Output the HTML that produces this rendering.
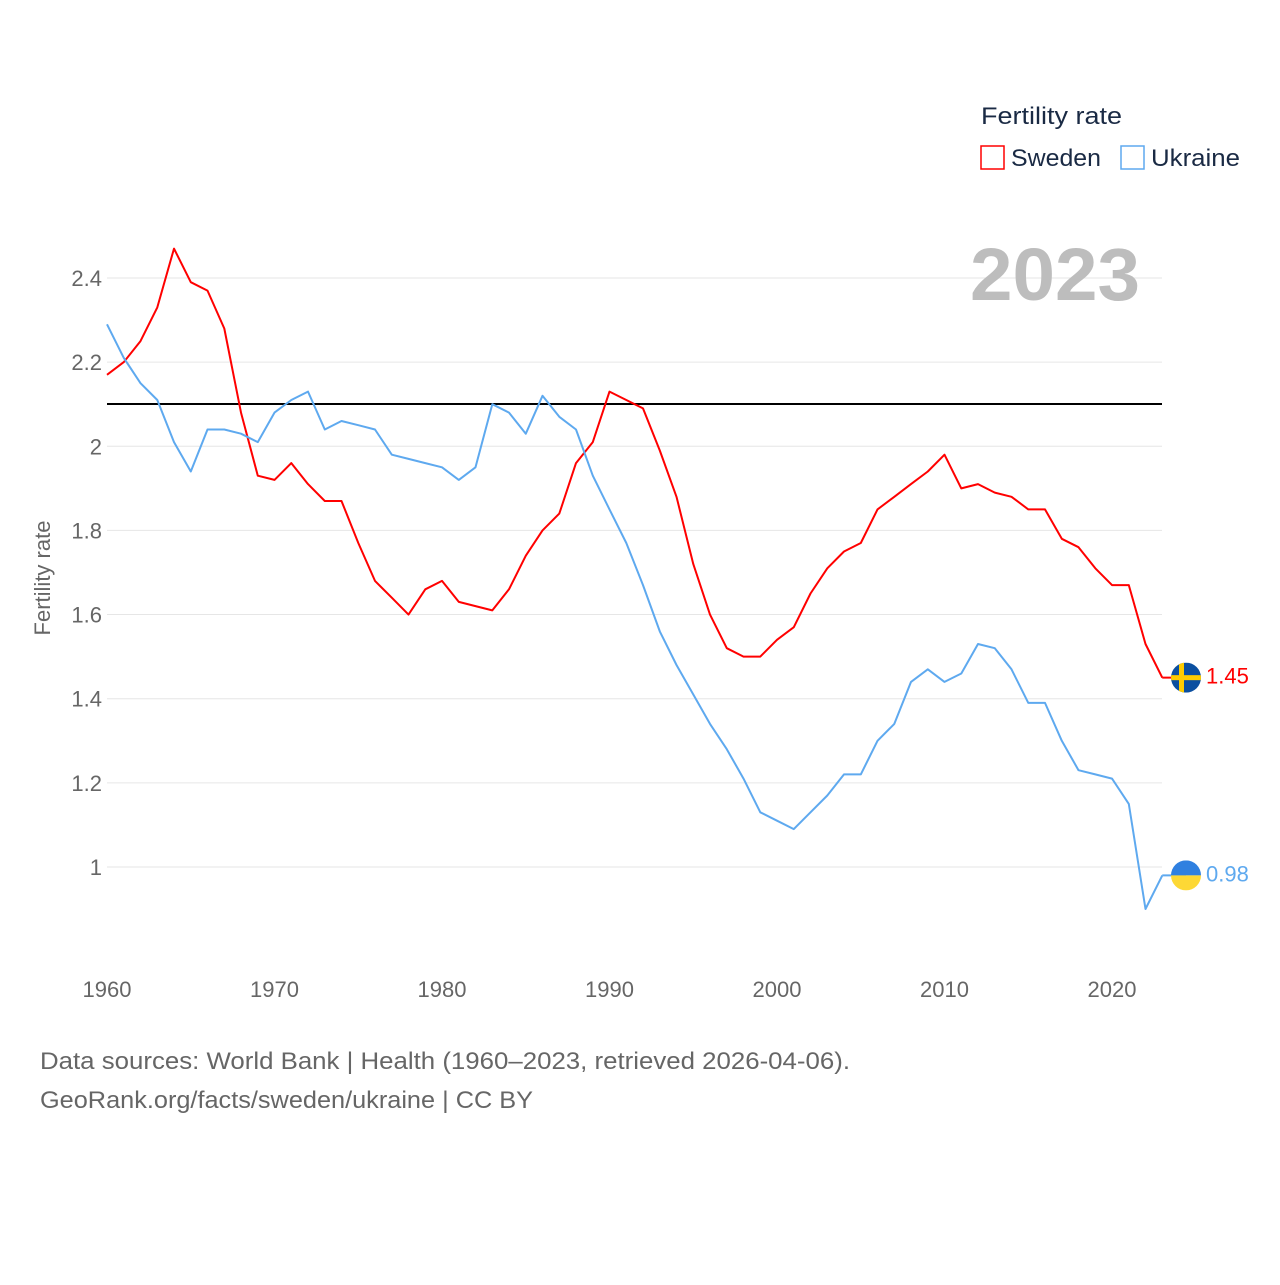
<!DOCTYPE html>
<html><head><meta charset="utf-8"><style>
body{margin:0;background:#fff;font-family:"Liberation Sans",sans-serif;}
svg text{font-family:"Liberation Sans",sans-serif;}
</style></head><body>
<svg id="chart" width="1280" height="1280" viewBox="0 0 1280 1280" xmlns="http://www.w3.org/2000/svg">
<g id="grid"></g>
<g id="yticks"></g>
<g id="xticks"></g>
<text x="970" y="300" textLength="170" lengthAdjust="spacingAndGlyphs" font-size="74" font-weight="bold" fill="#bdbdbd">2023</text>
<text transform="translate(50,578) rotate(-90)" text-anchor="middle" font-size="22" fill="#666">Fertility rate</text>
<line x1="107" x2="1162" y1="404" y2="404" stroke="#000" stroke-width="2"/>
<g id="series"></g>
<text x="981" y="124" font-size="24" textLength="141" lengthAdjust="spacingAndGlyphs" fill="#1a2a44">Fertility rate</text>
<g><rect x="981" y="146" width="23" height="23" fill="none" stroke="#f00" stroke-width="1.5"/><text x="1011" y="166" font-size="24" textLength="90" lengthAdjust="spacingAndGlyphs" fill="#1a2a44">Sweden</text></g>
<g><rect x="1121" y="146" width="23" height="23" fill="none" stroke="#5ea9ef" stroke-width="1.5"/><text x="1151" y="166" font-size="24" textLength="89" lengthAdjust="spacingAndGlyphs" fill="#1a2a44">Ukraine</text></g>
<text x="40" y="1069" font-size="24" textLength="810" lengthAdjust="spacingAndGlyphs" fill="#666">Data sources: World Bank | Health (1960–2023, retrieved 2026-04-06).</text>
<text x="40" y="1108" font-size="24" textLength="493" lengthAdjust="spacingAndGlyphs" fill="#666">GeoRank.org/facts/sweden/ukraine | CC BY</text>
</svg>
<script>
const years = Array.from({length:64},(_, i)=>1960+i);
const sweden = [2.17,2.20,2.25,2.33,2.47,2.39,2.37,2.28,2.08,1.93,1.92,1.96,1.91,1.87,1.87,1.77,1.68,1.64,1.60,1.66,1.68,1.63,1.62,1.61,1.66,1.74,1.80,1.84,1.96,2.01,2.13,2.11,2.09,1.99,1.88,1.72,1.60,1.52,1.50,1.50,1.54,1.57,1.65,1.71,1.75,1.77,1.85,1.88,1.91,1.94,1.98,1.90,1.91,1.89,1.88,1.85,1.85,1.78,1.76,1.71,1.67,1.67,1.53,1.45];
const ukraine = [2.29,2.21,2.15,2.11,2.01,1.94,2.04,2.04,2.03,2.01,2.08,2.11,2.13,2.04,2.06,2.05,2.04,1.98,1.97,1.96,1.95,1.92,1.95,2.10,2.08,2.03,2.12,2.07,2.04,1.93,1.85,1.77,1.67,1.56,1.48,1.41,1.34,1.28,1.21,1.13,1.11,1.09,1.13,1.17,1.22,1.22,1.30,1.34,1.44,1.47,1.44,1.46,1.53,1.52,1.47,1.39,1.39,1.30,1.23,1.22,1.21,1.15,0.90,0.98];
const yTicks = [1,1.2,1.4,1.6,1.8,2,2.2,2.4];
const yTickLabels = ["1","1.2","1.4","1.6","1.8","2","2.2","2.4"];
const xTicks = [1960,1970,1980,1990,2000,2010,2020];

const NS="http://www.w3.org/2000/svg";
const X = yr => 107 + (yr-1960)*16.75;
const Y = v => 278 + (2.4-v)*420.7;
function mk(tag, attrs, parent){const e=document.createElementNS(NS,tag);for(const k in attrs)e.setAttribute(k,attrs[k]);parent.appendChild(e);return e;}
const grid=document.getElementById('grid'), yt=document.getElementById('yticks'), xt=document.getElementById('xticks'), ser=document.getElementById('series');
yTicks.forEach((v,i)=>{
  const l=mk('line',{x1:107,x2:1162,y1:Y(v),y2:Y(v),stroke:'#e6e6e6','stroke-width':1},grid);
  
  
  const t=mk('text',{x:102,y:Y(v)+8,'text-anchor':'end','font-size':22,fill:'#666'},yt);
  t.textContent=yTickLabels[i];
  
  
});
xTicks.forEach(yr=>{
  const t=mk('text',{x:X(yr),y:997,'text-anchor':'middle','font-size':22,fill:'#666'},xt);
  t.textContent=yr;
  
  
});
function line(vals,color,name){
  const d=vals.map((v,i)=>(i?'L':'M')+X(years[i]).toFixed(1)+','+Y(v).toFixed(1)).join(' ');
  const p=mk('path',{d:d,fill:'none',stroke:color,'stroke-width':2,'stroke-linejoin':'round'},ser);
  
  
}
line(sweden,'#f00','sweden-line');
line(ukraine,'#5ea9ef','ukraine-line');
const last=years.length-1, fx=1186;
function flag(v,name,type,color,label){
  const cy=Y(v);
  mk('line',{x1:X(years[last]),x2:fx,y1:cy,y2:cy,stroke:color,'stroke-width':2},ser);
  const g=mk('g',{},ser);
  
  
  const id='c'+type;
  const cp=mk('clipPath',{id:id},g); mk('circle',{cx:fx,cy:cy,r:15},cp);
  const gg=mk('g',{'clip-path':'url(#'+id+')'},g);
  if(type==='se'){
    mk('rect',{x:fx-15,y:cy-15,width:30,height:30,fill:'#0b4fa0'},gg);
    mk('rect',{x:fx-7,y:cy-15,width:5,height:30,fill:'#fecc00'},gg);
    mk('rect',{x:fx-15,y:cy-2.5,width:30,height:5,fill:'#fecc00'},gg);
  } else {
    mk('rect',{x:fx-15,y:cy-15,width:30,height:15,fill:'#2f80e0'},gg);
    mk('rect',{x:fx-15,y:cy,width:30,height:15,fill:'#fdd835'},gg);
  }
  const t=mk('text',{x:1206,y:cy+6,'font-size':22,fill:color},ser);
  t.textContent=label;
  
  
}
flag(sweden[last],'sweden-flag','se','#f00',sweden[last].toFixed(2));
flag(ukraine[last],'ukraine-flag','ua','#5ea9ef',ukraine[last].toFixed(2));
</script>
</body></html>
